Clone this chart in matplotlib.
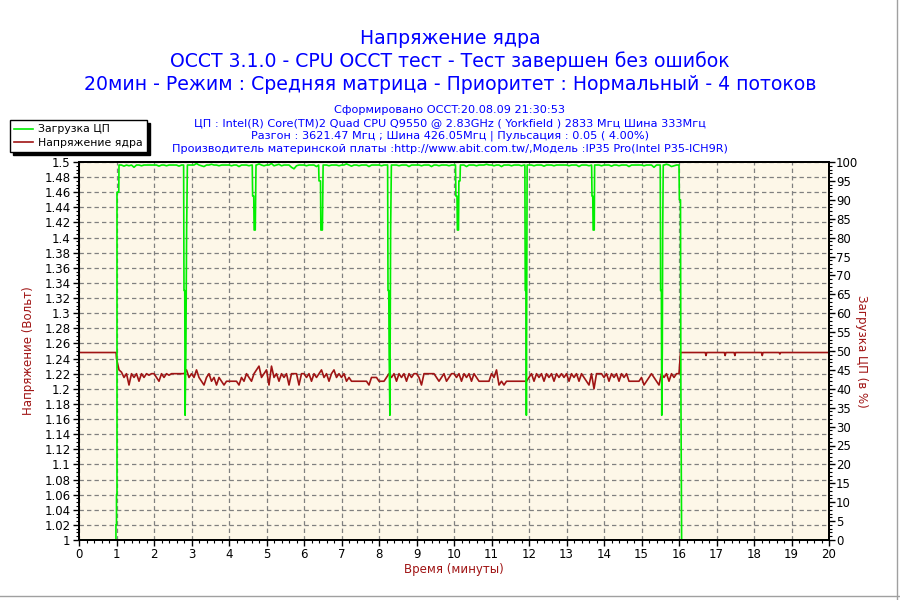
import numpy as np
import matplotlib
matplotlib.use("Agg")
import matplotlib.pyplot as plt
from matplotlib.ticker import MultipleLocator, FuncFormatter
from matplotlib.lines import Line2D

# ---------------- data ----------------
title_lines = ["Напряжение ядра",
               "OCCT 3.1.0 - CPU OCCT тест - Тест завершен без ошибок",
               "20мин - Режим : Средняя матрица - Приоритет : Нормальный - 4 потоков"]
info_lines = ["Сформировано OCCT:20.08.09 21:30:53",
              "ЦП : Intel(R) Core(TM)2 Quad CPU Q9550 @ 2.83GHz ( Yorkfield ) 2833 Мгц Шина 333Мгц",
              "Разгон : 3621.47 Мгц ; Шина 426.05Мгц | Пульсация : 0.05 ( 4.00%)",
              "Производитель материнской платы :http://www.abit.com.tw/,Модель :IP35 Pro(Intel P35-ICH9R)"]
series_names = ["Загрузка ЦП", "Напряжение ядра"]
xlabel = "Время (минуты)"
ylabel_left = "Напряжение (Вольт)"
ylabel_right = "Загрузка ЦП (в %)"

# Voltage before the test (minutes, volts)
volt_pre_t = [0.0, 0.005, 0.99]
volt_pre_v = [1.24, 1.248, 1.248]
# Voltage during the test: 15 samples per minute (every 4 s), minutes 1..15
volt_test = [
    [1.24, 1.225, 1.222, 1.215, 1.22, 1.205, 1.22, 1.215, 1.22, 1.21, 1.22, 1.215, 1.22, 1.218, 1.22],
    [1.22, 1.215, 1.21, 1.22, 1.215, 1.22, 1.218, 1.22, 1.22, 1.22, 1.22, 1.22, 1.22, 1.225, 1.215],
    [1.22, 1.215, 1.225, 1.215, 1.21, 1.205, 1.215, 1.22, 1.21, 1.215, 1.205, 1.215, 1.21, 1.205, 1.21],
    [1.21, 1.21, 1.21, 1.21, 1.205, 1.215, 1.21, 1.22, 1.215, 1.21, 1.22, 1.225, 1.23, 1.215, 1.22],
    [1.225, 1.205, 1.23, 1.215, 1.22, 1.21, 1.22, 1.215, 1.22, 1.205, 1.22, 1.22, 1.22, 1.205, 1.22],
    [1.22, 1.215, 1.22, 1.21, 1.22, 1.215, 1.22, 1.225, 1.215, 1.22, 1.21, 1.22, 1.225, 1.215, 1.22],
    [1.215, 1.22, 1.21, 1.215, 1.21, 1.21, 1.21, 1.21, 1.21, 1.21, 1.21, 1.205, 1.215, 1.215, 1.215],
    [1.21, 1.21, 1.21, 1.215, 1.22, 1.215, 1.22, 1.21, 1.22, 1.215, 1.22, 1.21, 1.22, 1.215, 1.22],
    [1.22, 1.215, 1.205, 1.22, 1.22, 1.22, 1.22, 1.22, 1.215, 1.21, 1.215, 1.22, 1.21, 1.215, 1.22],
    [1.22, 1.215, 1.22, 1.21, 1.22, 1.215, 1.22, 1.21, 1.22, 1.215, 1.21, 1.21, 1.21, 1.21, 1.21],
    [1.22, 1.215, 1.225, 1.205, 1.21, 1.205, 1.21, 1.21, 1.21, 1.21, 1.21, 1.21, 1.21, 1.21, 1.21],
    [1.215, 1.22, 1.21, 1.22, 1.215, 1.22, 1.21, 1.22, 1.215, 1.22, 1.21, 1.22, 1.215, 1.22, 1.215],
    [1.22, 1.21, 1.22, 1.215, 1.22, 1.21, 1.22, 1.215, 1.21, 1.205, 1.22, 1.20, 1.22, 1.22, 1.22],
    [1.215, 1.22, 1.21, 1.22, 1.215, 1.22, 1.21, 1.22, 1.215, 1.22, 1.21, 1.21, 1.21, 1.21, 1.21],
    [1.215, 1.205, 1.21, 1.215, 1.22, 1.215, 1.21, 1.205, 1.22, 1.215, 1.22, 1.21, 1.22, 1.215, 1.22],
]
# Voltage after the test (minutes, volts)
volt_post_t = [16.0, 16.04, 16.70, 16.72, 16.74, 17.21, 17.23, 17.25, 17.47, 17.49, 17.51,
               18.20, 18.22, 18.24, 18.67, 18.69, 18.71, 20.0]
volt_post_v = [1.22, 1.248, 1.248, 1.244, 1.248, 1.248, 1.244, 1.248, 1.248, 1.244, 1.248,
               1.248, 1.244, 1.248, 1.248, 1.246, 1.248, 1.248]

# CPU load baseline during test: 15 samples per minute, minutes 1..15 (%)
load_test = [
    [99.2, 99.2, 99.2, 98.9, 99.2, 99.0, 99.2, 98.6, 99.2, 99.2, 99.0, 99.2, 99.2, 99.2, 99.2],
    [99.2, 99.2, 98.9, 99.2, 99.2, 99.0, 99.2, 99.2, 99.2, 99.2, 98.9, 99.2, 99.2, 99.2, 99.2],
    [99.2, 99.2, 99.6, 99.2, 99.0, 98.8, 99.2, 99.2, 99.4, 99.2, 99.2, 99.0, 99.2, 99.2, 99.2],
    [99.2, 99.0, 99.2, 99.2, 98.8, 99.2, 99.2, 99.2, 99.0, 99.2, 99.2, 99.2, 99.5, 99.2, 99.0],
    [99.2, 99.2, 99.6, 99.0, 99.2, 99.4, 99.0, 99.2, 99.2, 99.2, 98.6, 98.2, 99.0, 99.2, 99.2],
    [99.2, 99.0, 99.2, 99.2, 99.2, 98.8, 99.2, 99.2, 99.2, 99.2, 99.0, 99.2, 99.2, 99.2, 99.0],
    [99.2, 99.2, 99.5, 99.2, 98.9, 99.2, 99.2, 99.0, 99.2, 99.2, 99.2, 98.8, 99.2, 99.2, 99.2],
    [99.2, 99.0, 99.2, 99.2, 99.4, 99.2, 99.2, 99.2, 99.0, 99.2, 99.2, 99.2, 98.8, 99.2, 99.2],
    [99.2, 99.2, 99.0, 99.2, 99.2, 99.2, 98.8, 99.2, 99.2, 99.0, 99.2, 99.2, 99.2, 99.0, 99.2],
    [99.2, 99.2, 99.0, 99.2, 99.2, 98.8, 99.2, 99.2, 99.2, 99.0, 99.2, 99.2, 99.2, 99.4, 99.2],
    [99.2, 99.0, 99.2, 99.2, 98.8, 99.2, 99.2, 99.2, 99.0, 99.2, 99.2, 99.2, 99.0, 99.2, 99.2],
    [99.2, 99.2, 99.0, 99.2, 99.2, 99.2, 98.9, 99.2, 99.2, 99.2, 99.0, 99.2, 99.2, 99.2, 99.2],
    [99.2, 99.0, 99.2, 99.2, 99.2, 98.8, 99.2, 99.2, 99.2, 99.0, 99.2, 99.2, 99.2, 99.2, 99.0],
    [99.2, 99.2, 99.2, 98.9, 99.2, 99.2, 99.0, 99.2, 99.2, 99.2, 98.8, 99.2, 99.2, 99.2, 99.2],
    [99.2, 99.0, 99.2, 99.2, 99.2, 98.6, 99.2, 99.2, 99.0, 99.2, 99.4, 99.2, 98.8, 99.0, 99.2],
]
# Load drops (minutes, %) — each list is one event
load_events = [
    ([0.0, 0.985, 0.985, 1.0, 1.0, 1.013, 1.013, 1.06, 1.067],
     [0.0, 0.0, 4.0, 4.0, 12.0, 12.0, 92.0, 92.0, 99.2]),
    ([2.79, 2.80, 2.82, 2.83, 2.85, 2.87, 2.89], [99.2, 66, 66, 33, 50, 82, 99.2]),
    ([4.62, 4.63, 4.66, 4.67, 4.70, 4.72], [99.2, 91, 91, 82, 82, 99.2]),
    ([6.39, 6.40, 6.44, 6.45, 6.49, 6.51], [99.2, 95, 95, 82, 82, 99.2]),
    ([8.23, 8.24, 8.26, 8.27, 8.29, 8.31, 8.33], [99.2, 66, 66, 50, 33, 82, 99.2]),
    ([10.04, 10.05, 10.08, 10.09, 10.12, 10.13, 10.16, 10.17], [99.2, 91, 91, 82, 82, 95, 95, 99.2]),
    ([11.89, 11.90, 11.92, 11.93, 11.95], [99.2, 66, 66, 33, 99.2]),
    ([13.67, 13.68, 13.70, 13.71, 13.74, 13.75], [99.2, 91, 91, 82, 82, 99.2]),
    ([15.50, 15.51, 15.53, 15.54, 15.555, 15.565, 15.58], [99.2, 66, 66, 33, 50, 82, 99.2]),
    ([16.00, 16.01, 16.04, 16.05, 16.07, 20.0], [99.2, 90, 90, 41, 0, 0]),
]

# ---------------- assemble series ----------------
per_min = 15
test_t = np.array([m + 1 + k / per_min for m in range(len(volt_test)) for k in range(per_min)])
volt_t = np.concatenate([volt_pre_t, test_t, volt_post_t])
volt_v = np.concatenate([volt_pre_v, np.ravel(volt_test), volt_post_v])

base_t = test_t
base_v = np.ravel(load_test)
keep = np.ones(len(base_t), bool)
for et, ev in load_events:
    if et[-1] < 19:
        keep &= ~((base_t >= et[0] - 0.01) & (base_t <= et[-1] + 0.01))
    else:
        keep &= ~(base_t >= et[0] - 0.01)
ev_t = np.concatenate([e[0] for e in load_events])
ev_v = np.concatenate([e[1] for e in load_events])
load_t = np.concatenate([base_t[keep], ev_t])
load_v = np.concatenate([base_v[keep], ev_v])
order = np.argsort(load_t, kind="stable")
load_t, load_v = load_t[order], load_v[order]

# ---------------- styling ----------------
plt.rcParams['font.family'] = ['DejaVu Sans']
blue = '#0000FF'
dred = '#A01414'
green = '#00EE00'
bg = '#FDF7E8'

fig = plt.figure(figsize=(9, 6), dpi=100)
W, H = 900, 600
ax = fig.add_axes([79 / W, 1 - 540 / H, (829 - 79) / W, (540 - 162) / H])
ax.set_facecolor(bg)
ax2 = ax.twinx()

ax.plot(volt_t, volt_v, color=dred, lw=1.2, zorder=3)
ax2.plot(load_t, load_v, color=green, lw=1.2, zorder=3)

ax.set_xlim(0, 20)
ax.set_ylim(1.0, 1.5)
ax2.set_ylim(0, 100)

ax.xaxis.set_major_locator(MultipleLocator(1))
ax.xaxis.set_minor_locator(MultipleLocator(0.2))
ax.yaxis.set_major_locator(MultipleLocator(0.02))
ax.yaxis.set_minor_locator(MultipleLocator(0.005))
ax2.yaxis.set_major_locator(MultipleLocator(5))
ax2.yaxis.set_minor_locator(MultipleLocator(1))
ax.yaxis.set_major_formatter(FuncFormatter(lambda v, p: f"{v:.2f}".rstrip('0').rstrip('.')))

ax.grid(True, which='major', color='#808080', linestyle=(0, (3.5, 2.5)), linewidth=0.9)
ax.set_axisbelow(True)

for a in (ax, ax2):
    for s in a.spines.values():
        s.set_linewidth(1.4)
        s.set_color('black')
        s.set_zorder(5)
ax.tick_params(axis='both', which='major', direction='out', length=4, width=1, labelsize=8.5, colors='black', pad=2)
ax.tick_params(axis='both', which='minor', direction='out', length=2, width=0.8)
ax2.tick_params(axis='y', which='major', direction='out', length=4, width=1, labelsize=8.5, pad=1)
ax2.tick_params(axis='y', which='minor', direction='out', length=2, width=0.8)

ax.set_xlabel(xlabel, color=dred, fontsize=8.5, labelpad=1)
ax.set_ylabel(ylabel_left, color=dred, fontsize=8.5, labelpad=12)
ax2.set_ylabel(ylabel_right, color=dred, fontsize=8.5, rotation=270, labelpad=10)
ax.yaxis.set_label_coords(-44 / 750, 0.5)
ax2.yaxis.set_label_coords(1 + 39 / 750, 0.5)

# titles
ys = [38, 61, 84]
for txt, y in zip(title_lines, ys):
    fig.text(0.5, 1 - y / H, txt, ha='center', va='center', color=blue, fontsize=13.6)
ys2 = [110, 123, 136, 149]
for txt, y in zip(info_lines, ys2):
    fig.text(0.5, 1 - y / H, txt, ha='center', va='center', color=blue, fontsize=8.1)

# legend
h1 = Line2D([], [], color=green, lw=1.2)
h2 = Line2D([], [], color=dred, lw=1.2)
leg = fig.legend([h1, h2], series_names, loc='upper left', bbox_to_anchor=(10 / W, 1 - 120 / H),
                 frameon=True, fancybox=False, shadow={'color': 'black', 'alpha': 1},
                 fontsize=7.8, handlelength=1.7, handletextpad=0.5, borderpad=0.4,
                 labelspacing=0.3, borderaxespad=0)
leg.get_frame().set_edgecolor('black')
leg.get_frame().set_linewidth(1.0)

# outer frame lines
fig.add_artist(Line2D([897 / W, 897 / W], [0, 1], color='#A0A0A0', lw=1))
fig.add_artist(Line2D([0, 1], [1 - 596 / H, 1 - 596 / H], color='#A0A0A0', lw=1))

fig.savefig('out.png', dpi=100, facecolor='white')
